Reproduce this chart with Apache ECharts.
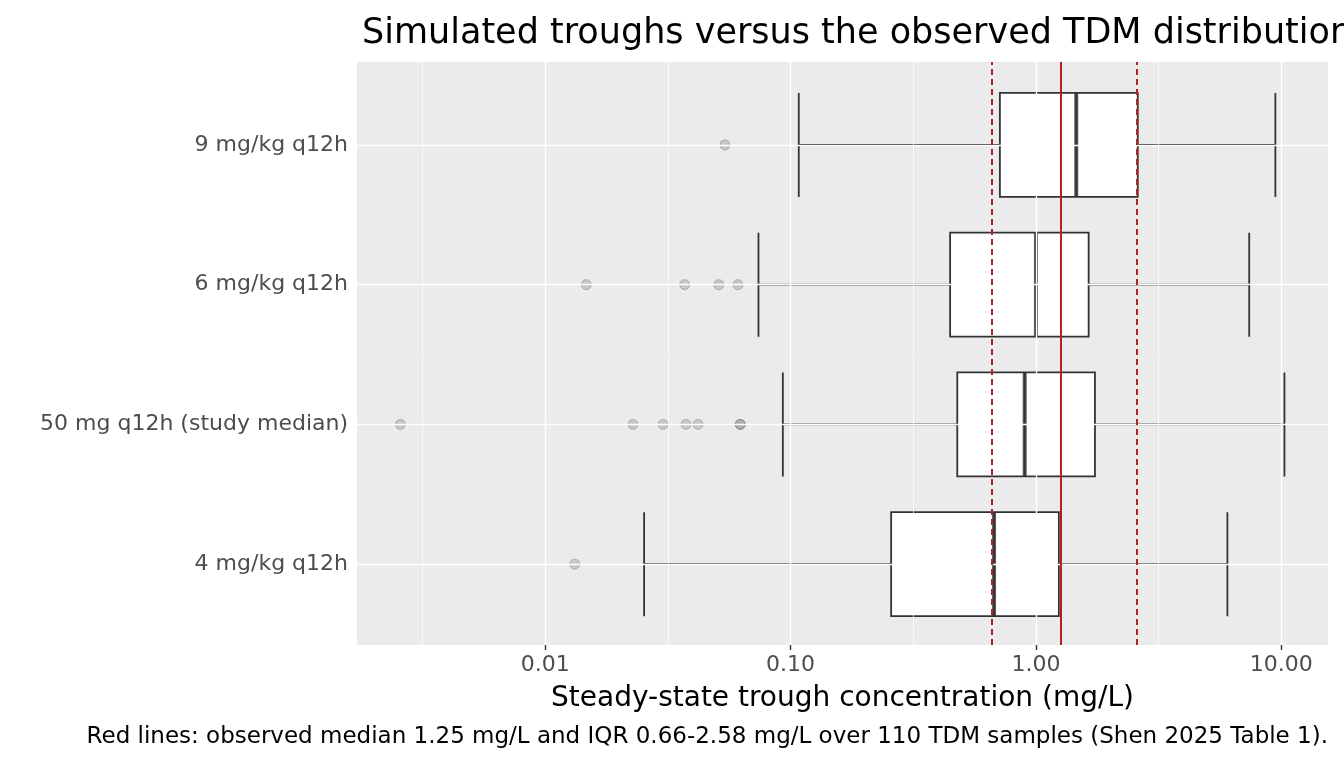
<!DOCTYPE html>
<html><head><meta charset="utf-8">
<script src="https://cdn.jsdelivr.net/npm/echarts@6/dist/echarts.min.js"></script>
<style>html,body{margin:0;background:#fff}#c{width:1344px;height:768px}</style>
</head><body><div id="c"></div>
<script>
const categories = ['4 mg/kg q12h', '50 mg q12h (study median)', '6 mg/kg q12h', '9 mg/kg q12h'];
// [lower whisker, Q1, median, Q3, upper whisker] in mg/L
const boxStats = [
  [0.0253, 0.257, 0.675, 1.24, 6.03],
  [0.093, 0.478, 0.90, 1.74, 10.3],
  [0.074, 0.447, 1.0, 1.64, 7.4],
  [0.108, 0.713, 1.46, 2.60, 9.46]
];
const outliers = [
  [0, [0.0132]],
  [1, [0.00257, 0.0228, 0.0302, 0.0375, 0.042, 0.0622, 0.0625]],
  [2, [0.0147, 0.037, 0.051, 0.061]],
  [3, [0.054]]
];
const observedMedian = 1.25, observedIQR = [0.66, 2.58];
const majorTicks = [0.01, 0.1, 1, 10];
const minorTicks = [Math.pow(10,-2.5), Math.pow(10,-1.5), Math.pow(10,-0.5), Math.pow(10,0.5)];

const L = Math.log10;
const FONT = 'DejaVu Sans';
const chart = echarts.init(document.getElementById('c'));
const outlierData = [];
outliers.forEach(([ci, vals]) => vals.forEach(v => outlierData.push([L(v), categories[ci]])));
const vGrid = majorTicks.map(v => ({xAxis: L(v), lineStyle: {width: 1.4}}))
  .concat(minorTicks.map(v => ({xAxis: L(v), lineStyle: {width: 0.7}})));
const hGrid = categories.map(c => ({yAxis: c, lineStyle: {width: 1.4}}));
const xmin = L(0.00171), xmax = L(15.5);
chart.setOption({
  animation: false,
  title: {text: 'Simulated troughs versus the observed TDM distribution', left: 357, top: 11,
    textStyle: {fontSize: 35, fontWeight: 'normal', color: '#000', fontFamily: FONT}},
  graphic: [{type: 'text', right: 16, top: 726, style: {
    text: 'Red lines: observed median 1.25 mg/L and IQR 0.66-2.58 mg/L over 110 TDM samples (Shen 2025 Table 1).',
    fontSize: 23, fill: '#000', fontFamily: FONT}}],
  grid: [
    {left: 357, right: 16, top: 62, bottom: 123, show: true, backgroundColor: '#ebebeb', borderWidth: 0},
    {left: 357, right: 16, top: 75, bottom: 134, show: false}
  ],
  xAxis: [
    {gridIndex: 0, type: 'value', min: xmin, max: xmax,
      name: 'Steady-state trough concentration (mg/L)', nameLocation: 'middle', nameGap: 40,
      nameTextStyle: {fontSize: 28, color: '#000', fontFamily: FONT},
      axisLine: {show: false}, splitLine: {show: false},
      axisTick: {show: true, customValues: majorTicks.map(L), length: 5, lineStyle: {color: '#333', width: 1.4}},
      axisLabel: {customValues: majorTicks.map(L), formatter: v => Math.pow(10, v).toFixed(2),
        fontSize: 22, color: '#4d4d4d', fontFamily: FONT, margin: 9}},
    {gridIndex: 1, type: 'value', min: xmin, max: xmax, show: false}
  ],
  yAxis: [
    {gridIndex: 0, type: 'value', min: 0, max: 1, show: false},
    {gridIndex: 1, type: 'category', data: categories, boundaryGap: true,
      axisLine: {show: false}, splitLine: {show: false},
      axisTick: {show: true, alignWithLabel: true, length: 5, lineStyle: {color: '#333', width: 1.4}},
      axisLabel: {fontSize: 22, color: '#4d4d4d', fontFamily: FONT, margin: 9}}
  ],
  series: [
    {type: 'scatter', xAxisIndex: 0, yAxisIndex: 0, data: [], z: 1, silent: true,
      markLine: {symbol: 'none', silent: true, label: {show: false}, animation: false,
        lineStyle: {color: '#fff', type: 'solid'}, data: vGrid}},
    {type: 'scatter', xAxisIndex: 1, yAxisIndex: 1, data: [], z: 1, silent: true,
      markLine: {symbol: 'none', silent: true, label: {show: false}, animation: false,
        lineStyle: {color: '#fff', type: 'solid'}, data: hGrid}},
    {type: 'boxplot', xAxisIndex: 1, yAxisIndex: 1, z: 3, boxWidth: [104, 104],
      data: boxStats.map(r => r.map(L)),
      itemStyle: {color: '#fff', borderColor: '#333', borderWidth: 1.8}},
    {type: 'scatter', xAxisIndex: 1, yAxisIndex: 1, z: 4, data: boxStats.map((r, i) => [L(r[2]), categories[i]]),
      symbol: 'rect', symbolSize: [4, 104], itemStyle: {color: '#333'}},
    {type: 'scatter', xAxisIndex: 1, yAxisIndex: 1, z: 4, data: outlierData, symbolSize: 10,
      itemStyle: {color: 'rgba(110,110,110,0.35)', borderColor: 'rgba(80,80,80,0.4)', borderWidth: 1}},
    {type: 'scatter', xAxisIndex: 0, yAxisIndex: 0, data: [], z: 6, silent: true,
      markLine: {symbol: 'none', silent: true, label: {show: false}, animation: false,
        lineStyle: {color: '#b22222', width: 2},
        data: [{xAxis: L(observedMedian), lineStyle: {type: 'solid'}},
               {xAxis: L(observedIQR[0]), lineStyle: {type: [6, 4]}},
               {xAxis: L(observedIQR[1]), lineStyle: {type: [6, 4]}}]}}
  ]
});
</script></body></html>
